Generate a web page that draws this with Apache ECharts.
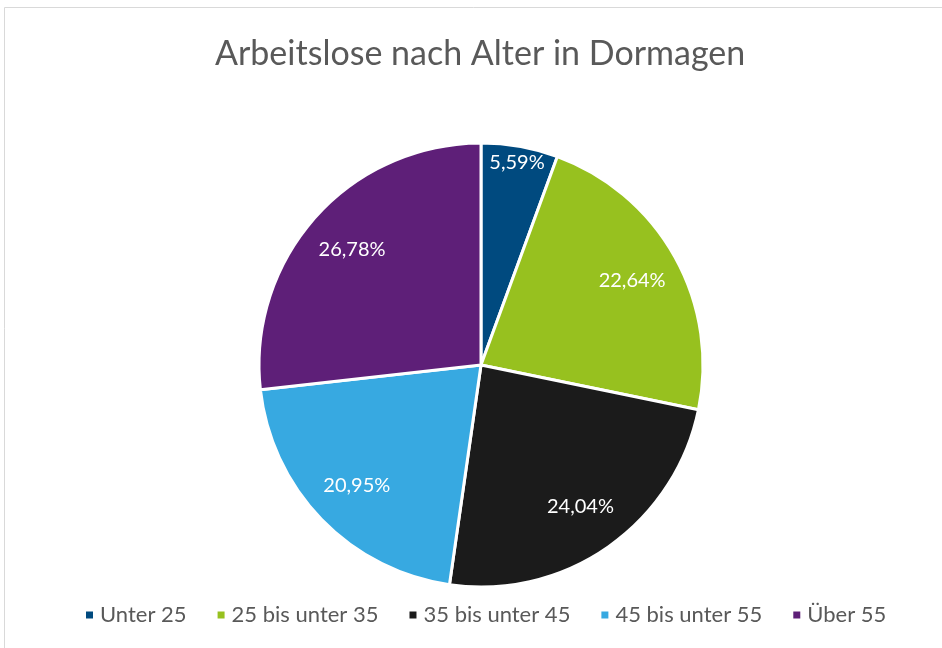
<!DOCTYPE html>
<html>
<head>
<meta charset="UTF-8">
<title>Arbeitslose nach Alter in Dormagen</title>
<script src="https://cdn.jsdelivr.net/npm/echarts@6/dist/echarts.min.js"></script>
<style>
  html, body { margin: 0; padding: 0; background: #fff; }
  #pieAlter { width: 942px; height: 648px; }
</style>
</head>
<body>
<div id="pieAlter"></div>
<script type="text/javascript">
  // Daten
  var kategorien = ['Unter 25', '25 bis unter 35', '35 bis unter 45', '45 bis unter 55', 'Über 55'];
  var anteile = [5.59, 22.64, 24.04, 20.95, 26.78];
  var farben = ['#004A7F', '#97C11F', '#1B1B1B', '#37A9E1', '#5E1F78'];

  var daten = kategorien.map(function (k, i) {
    return { name: k, value: anteile[i] };
  });

  function fmt(p) {
    return p.value.toFixed(2).replace('.', ',') + '%';
  }

  var chart = echarts.init(document.getElementById('pieAlter'));
  var option = {
    color: farben,
    textStyle: { fontFamily: 'Lato' },
    title: {
      text: 'Arbeitslose nach Alter in Dormagen',
      left: 210,
      top: 32,
      textStyle: { fontFamily: 'Lato', fontSize: 34, fontWeight: 'normal', color: '#595959' }
    },
    legend: {
      data: kategorien,
      bottom: 17,
      left: 79,
      icon: 'rect',
      itemWidth: 9,
      itemHeight: 9,
      itemGap: 29,
      textStyle: { fontFamily: 'Lato', fontSize: 22, color: '#595959', padding: [0, 0, 0, 1] }
    },
    graphic: [{
      type: 'rect',
      shape: { x: 4.5, y: 7.5, width: 1000, height: 1000 },
      style: { fill: 'none', stroke: '#d9d9d9', lineWidth: 1 },
      silent: true
    }],
    series: [
      {
        name: 'Arbeitslose',
        type: 'pie',
        center: [481, 365],
        radius: 222,
        startAngle: 90,
        data: daten,
        label: { show: false },
        labelLine: { show: false },
        itemStyle: { borderColor: '#fff', borderWidth: 3 }
      },
      {
        // Beschriftung (Ring, dessen Mitte bei ca. 0,77 r liegt)
        type: 'pie',
        center: [481, 365],
        radius: [118, 222],
        startAngle: 90,
        silent: true,
        legendHoverLink: false,
        data: daten.map(function (d, i) {
          return { name: d.name, value: d.value, label: { show: i !== 0 } };
        }),
        itemStyle: { color: 'transparent', borderWidth: 0 },
        label: { position: 'inside', formatter: fmt, color: '#fff', fontSize: 20, fontFamily: 'Lato' },
        labelLine: { show: false }
      },
      {
        // kleine Scheibe: Beschriftung weiter außen
        type: 'pie',
        center: [481, 365],
        radius: [184, 222],
        startAngle: 90,
        silent: true,
        legendHoverLink: false,
        data: daten.map(function (d, i) {
          return { name: d.name, value: d.value, label: { show: i === 0 } };
        }),
        itemStyle: { color: 'transparent', borderWidth: 0 },
        label: { position: 'inside', formatter: fmt, color: '#fff', fontSize: 20, fontFamily: 'Lato' },
        labelLine: { show: false }
      }
    ]
  };
  chart.setOption(option);
</script>
</body>
</html>
